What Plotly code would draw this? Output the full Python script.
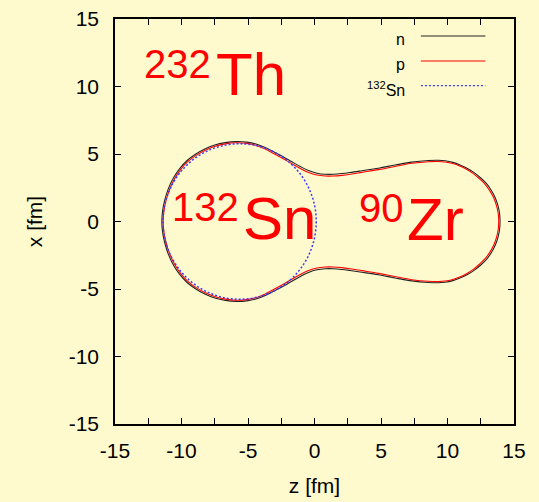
import plotly.graph_objects as go

# Half-density contours of the fissioning 232Th system (upper half, x >= 0), in fm
n_z = [-11.48, -11.42, -11.27, -11.00, -10.62, -10.15, -9.60, -8.95, -8.25, -7.50,
       -6.70, -5.90, -5.10, -4.40, -3.70, -3.00, -2.33, -1.70, -1.07, -0.45,
       0.18, 0.80, 1.43, 2.05, 2.68, 3.56, 4.81, 6.06, 7.32, 8.57,
       9.30, 9.82, 10.40, 10.94, 11.50, 12.00, 12.50, 12.95, 13.30, 13.58,
       13.80, 13.92, 13.95]
n_x = [0.00, 0.80, 1.55, 2.40, 3.20, 3.90, 4.50, 4.98, 5.37, 5.66,
       5.84, 5.92, 5.88, 5.74, 5.48, 5.13, 4.78, 4.42, 4.07, 3.77,
       3.58, 3.50, 3.50, 3.55, 3.63, 3.76, 3.95, 4.18, 4.40, 4.52,
       4.54, 4.50, 4.38, 4.19, 3.93, 3.62, 3.22, 2.78, 2.30, 1.78,
       1.15, 0.55, 0.00]

p_z = [-11.38, -11.32, -11.17, -10.90, -10.53, -10.07, -9.53, -8.90, -8.21, -7.47,
       -6.69, -5.90, -5.10, -4.42, -3.74, -3.04, -2.35, -1.71, -1.07, -0.45,
       0.18, 0.80, 1.43, 2.05, 2.68, 3.56, 4.81, 6.06, 7.32, 8.57,
       9.30, 9.82, 10.40, 10.92, 11.46, 11.94, 12.42, 12.86, 13.20, 13.48,
       13.70, 13.82, 13.85]
p_x = [0.00, 0.79, 1.53, 2.37, 3.15, 3.84, 4.43, 4.90, 5.28, 5.57,
       5.75, 5.83, 5.79, 5.65, 5.38, 5.02, 4.65, 4.28, 3.93, 3.63,
       3.44, 3.37, 3.37, 3.42, 3.50, 3.64, 3.84, 4.08, 4.31, 4.43,
       4.45, 4.41, 4.29, 4.11, 3.85, 3.55, 3.15, 2.72, 2.25, 1.74,
       1.12, 0.54, 0.00]

# Spherical 132Sn reference nucleus
sn_center_z = -5.63
sn_center_x = 0.0
sn_radius = 5.76

axis_ticks = [-15, -10, -5, 0, 5, 10, 15]
axis_tick_text = ["-15", "-10", "-5", "0", "5", "10", "15"]

BG = "#FFFACD"
FONT = "Liberation Sans, Arial, sans-serif"
BLUE = "#3a3aff"


def closed_loop(zs, xs, start_z):
    """Mirror the upper half about x=0 and return a closed loop that
    starts (and ends) on the neck at z=start_z, where the curve is smooth."""
    pts = list(zip(zs, xs))
    lower = [(z, -x) for z, x in reversed(pts[1:-1])]
    loop = pts + lower
    k = zs.index(start_z)
    loop = loop[k:] + loop[:k + 1]
    return [p[0] for p in loop], [p[1] for p in loop]


nz, nx = closed_loop(n_z, n_x, 2.68)
pz, px = closed_loop(p_z, p_x, 2.68)

fig = go.Figure()
fig.add_trace(go.Scatter(x=nz, y=nx, mode="lines", name="n",
                         line=dict(color="#222222", width=1.1, shape="spline",
                                   smoothing=1, simplify=False),
                         showlegend=False))
fig.add_trace(go.Scatter(x=pz, y=px, mode="lines", name="p",
                         line=dict(color="#ff0000", width=1.1, shape="spline",
                                   smoothing=1, simplify=False),
                         showlegend=False))

# 132Sn sphere
fig.add_shape(type="circle", xref="x", yref="y",
              x0=sn_center_z - sn_radius, x1=sn_center_z + sn_radius,
              y0=sn_center_x - sn_radius, y1=sn_center_x + sn_radius,
              line=dict(color=BLUE, width=1.5, dash="2px,2px"))

# gnuplot-style key: label on the left, line sample on the right
key_labels = ["n", "p", "<sup>132</sup>Sn"]
key_colors = ["#222222", "#ff0000", BLUE]
key_dash = ["solid", "solid", "2px,2px"]
key_rows = [13.74, 11.89, 10.06]
for lab, col, dsh, row in zip(key_labels, key_colors, key_dash, key_rows):
    fig.add_shape(type="line", xref="x", yref="y", x0=8.0, x1=12.85, y0=row, y1=row,
                  line=dict(color=col, width=1.2, dash=dsh))
    fig.add_annotation(x=6.95, y=row - 0.25, xref="x", yref="y", text=lab,
                       showarrow=False, xanchor="right", yanchor="middle",
                       font=dict(size=16, color="black", family=FONT))

# Nucleus labels
labels = [
    ("232", -12.95, 11.65, 40), ("Th", -7.55, 10.9, 60),
    ("132", -10.9, 1.07, 40), ("Sn", -5.5, 0.22, 60),
    ("90", 3.2, 1.0, 40), ("Zr", 6.8, 0.15, 60),
]
for txt, z, x, size in labels:
    fig.add_annotation(x=z, y=x, xref="x", yref="y", text=txt, showarrow=False,
                       xanchor="left", yanchor="middle",
                       font=dict(size=size, color="#ff0000", family=FONT))

axis_common = dict(
    range=[-15, 15], tickvals=axis_ticks, ticktext=axis_tick_text,
    ticks="inside", ticklen=6, tickwidth=1.3,
    tickcolor="black", showline=True, linecolor="black", linewidth=1.5,
    mirror="ticks", showgrid=False, zeroline=False, automargin=False,
    tickfont=dict(size=21, color="black", family=FONT),
)

fig.update_xaxes(**axis_common, minor=dict(dtick=2.5, ticks="inside", ticklen=6,
                                          tickwidth=1.3, tickcolor="black"),
                 title=dict(text="z [fm]", font=dict(size=21, family=FONT, color="black"),
                            standoff=17),
                 ticklabelstandoff=7)
fig.update_yaxes(**axis_common,
                 title=dict(text="x [fm]", font=dict(size=21, family=FONT, color="black"),
                            standoff=20),
                 ticklabelstandoff=10)

fig.update_layout(
    width=539, height=502,
    margin=dict(l=115, r=25, t=19, b=78),
    paper_bgcolor=BG, plot_bgcolor=BG,
    font=dict(family=FONT, color="black"),
    showlegend=False,
)

fig.write_html("out.html")
